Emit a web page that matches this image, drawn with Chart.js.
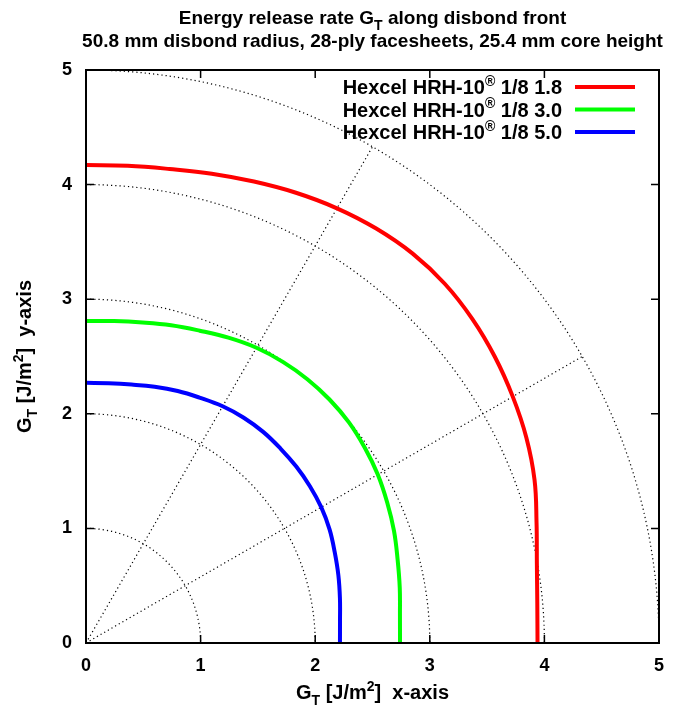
<!DOCTYPE html>
<html lang="en">

<head>
    <title>Energy release rate</title>
    <meta charset="utf-8">
    <script src="https://cdn.jsdelivr.net/npm/chart.js"></script>
    <style>
        body { margin: 0; background: #fff; }
    </style>
</head>

<body>
    <canvas id="grChart" width="673" height="712"></canvas>

    <script>
        // values: G_T (J/m^2) at each angle along the front
        const seriesNames = ['1/8 1.8', '1/8 3.0', '1/8 5.0'];
        const angles = [0, 5, 10, 15, 20, 25, 30, 35, 40, 45, 50, 55, 60, 65, 70, 75, 80, 85, 90];
        const red_r = [3.94, 3.953, 3.995, 4.07, 4.165, 4.24, 4.30, 4.355, 4.40, 4.43, 4.435, 4.415, 4.38, 4.335, 4.285, 4.24, 4.20, 4.18, 4.17];
        const green_r = [2.74, 2.75, 2.78, 2.815, 2.86, 2.90, 2.94, 2.97, 2.995, 3.005, 3.005, 2.995, 2.975, 2.94, 2.90, 2.87, 2.84, 2.82, 2.81];
        const blue_r = [2.216, 2.225, 2.25, 2.28, 2.31, 2.345, 2.37, 2.385, 2.395, 2.40, 2.405, 2.40, 2.385, 2.36, 2.34, 2.315, 2.29, 2.275, 2.27];
        const colors = ['#ff0000', '#00ff00', '#0000ff'];
        const ringRadii = [1, 2, 3, 4, 5];
        const spokeAngles = [30, 60];
        const tickValues = [0, 1, 2, 3, 4, 5];

        const FONT = '"Liberation Sans", Arial, sans-serif';

        // polar (angle, G_T) -> x/y components
        const toPoints = (rs) => rs.map((r, i) => {
            const t = angles[i] * Math.PI / 180;
            return { x: r * Math.cos(t), y: r * Math.sin(t) };
        });

        // text with sub/superscripts: parts = [[text, 'n'|'sub'|'sup'], ...]
        function richWidth(ctx, parts, size) {
            let w = 0;
            parts.forEach(p => {
                ctx.font = 'bold ' + (p[1] === 'n' ? size : Math.round(size * 0.72)) + 'px ' + FONT;
                w += ctx.measureText(p[0]).width;
            });
            return w;
        }
        function drawRich(ctx, parts, x, y, size) {
            ctx.textBaseline = 'alphabetic';
            ctx.textAlign = 'left';
            let cx = x;
            parts.forEach(p => {
                const small = p[1] !== 'n';
                ctx.font = 'bold ' + (small ? Math.round(size * 0.72) : size) + 'px ' + FONT;
                let dy = 0;
                if (p[1] === 'sub') dy = size * 0.3;
                if (p[1] === 'sup') dy = -size * 0.42;
                ctx.fillText(p[0], cx, y + dy);
                cx += ctx.measureText(p[0]).width;
            });
        }

        const polarGrid = {
            id: 'polarGrid',
            beforeDatasetsDraw(chart) {
                const { ctx, scales: { x, y } } = chart;
                const x0 = x.getPixelForValue(0), y0 = y.getPixelForValue(0);
                ctx.save();
                ctx.strokeStyle = '#000';
                ctx.lineWidth = 1.2;
                ctx.setLineDash([1.2, 3]);
                ringRadii.forEach(r => {
                    const rx = x.getPixelForValue(r) - x0;
                    const ry = y0 - y.getPixelForValue(r);
                    ctx.beginPath();
                    ctx.ellipse(x0, y0, rx, ry, 0, -Math.PI / 2, 0);
                    ctx.stroke();
                });
                const rMax = ringRadii[ringRadii.length - 1];
                spokeAngles.forEach(a => {
                    const t = a * Math.PI / 180;
                    ctx.beginPath();
                    ctx.moveTo(x0, y0);
                    ctx.lineTo(x.getPixelForValue(rMax * Math.cos(t)), y.getPixelForValue(rMax * Math.sin(t)));
                    ctx.stroke();
                });
                ctx.restore();
            },
            afterDraw(chart) {
                const { ctx, chartArea: a, scales: { x, y } } = chart;
                ctx.save();
                ctx.strokeStyle = '#000';
                ctx.lineWidth = 2;
                ctx.strokeRect(a.left, a.top, a.right - a.left, a.bottom - a.top);
                // inward tick marks on all four sides
                ctx.lineWidth = 1.5;
                ctx.beginPath();
                tickValues.forEach(v => {
                    const px = x.getPixelForValue(v), py = y.getPixelForValue(v);
                    ctx.moveTo(px, a.bottom); ctx.lineTo(px, a.bottom - 8);
                    ctx.moveTo(px, a.top); ctx.lineTo(px, a.top + 8);
                    ctx.moveTo(a.left, py); ctx.lineTo(a.left + 8, py);
                    ctx.moveTo(a.right, py); ctx.lineTo(a.right - 8, py);
                });
                ctx.stroke();

                ctx.fillStyle = '#000';
                // title
                const t1 = [['Energy release rate G', 'n'], ['T', 'sub'], [' along disbond front', 'n']];
                const t2 = [['50.8 mm disbond radius, 28-ply facesheets, 25.4 mm core height', 'n']];
                const cx = (a.left + a.right) / 2;
                drawRich(ctx, t1, cx - richWidth(ctx, t1, 19) / 2, 24, 19);
                drawRich(ctx, t2, cx - richWidth(ctx, t2, 19) / 2, 47, 19);

                // axis titles
                const xt = [['G', 'n'], ['T', 'sub'], [' [J/m', 'n'], ['2', 'sup'], [']  x-axis', 'n']];
                drawRich(ctx, xt, cx - richWidth(ctx, xt, 20) / 2, 699, 20);
                const yt = [['G', 'n'], ['T', 'sub'], [' [J/m', 'n'], ['2', 'sup'], [']  y-axis', 'n']];
                ctx.save();
                ctx.translate(31, (a.top + a.bottom) / 2);
                ctx.rotate(-Math.PI / 2);
                drawRich(ctx, yt, -richWidth(ctx, yt, 20) / 2, 0, 20);
                ctx.restore();

                // legend
                const right = 562;
                chart.data.datasets.forEach((ds, i) => {
                    const ly = 87 + i * 22.5;
                    const parts = [['Hexcel HRH-10', 'n'], ['\u00AE', 'sup'], [' ' + seriesNames[i], 'n']];
                    drawRich(ctx, parts, right - richWidth(ctx, parts, 20), ly + 7, 20);
                    ctx.strokeStyle = ds.borderColor;
                    ctx.lineWidth = 4;
                    ctx.beginPath();
                    ctx.moveTo(575, ly);
                    ctx.lineTo(635, ly);
                    ctx.stroke();
                });
                ctx.restore();
            }
        };

        const datasets = [red_r, green_r, blue_r].map((rs, i) => ({
            label: seriesNames[i],
            data: toPoints(rs),
            borderColor: colors[i],
            backgroundColor: colors[i],
            borderWidth: 4,
            pointRadius: 0,
            showLine: true,
            tension: 0.4,
            fill: false
        }));

        const tickFont = { family: FONT, size: 18, weight: 'bold' };

        new Chart(document.getElementById('grChart'), {
            type: 'scatter',
            data: { datasets: datasets },
            options: {
                responsive: false,
                animation: false,
                devicePixelRatio: 1,
                layout: { padding: { top: 70, right: 14, left: 0, bottom: 0 } },
                plugins: {
                    legend: { display: false },
                    tooltip: { enabled: false },
                    title: { display: false }
                },
                scales: {
                    x: {
                        type: 'linear', min: 0, max: 5,
                        grid: { display: false },
                        border: { display: false },
                        ticks: { stepSize: 1, color: '#000', font: tickFont, padding: 4, maxRotation: 0 },
                        afterFit: (s) => { s.height = 69; }
                    },
                    y: {
                        type: 'linear', min: 0, max: 5,
                        grid: { display: false },
                        border: { display: false },
                        ticks: { stepSize: 1, color: '#000', font: tickFont, padding: 6 },
                        afterFit: (s) => { s.width = 86; }
                    }
                }
            },
            plugins: [polarGrid]
        });
    </script>
</body>

</html>
